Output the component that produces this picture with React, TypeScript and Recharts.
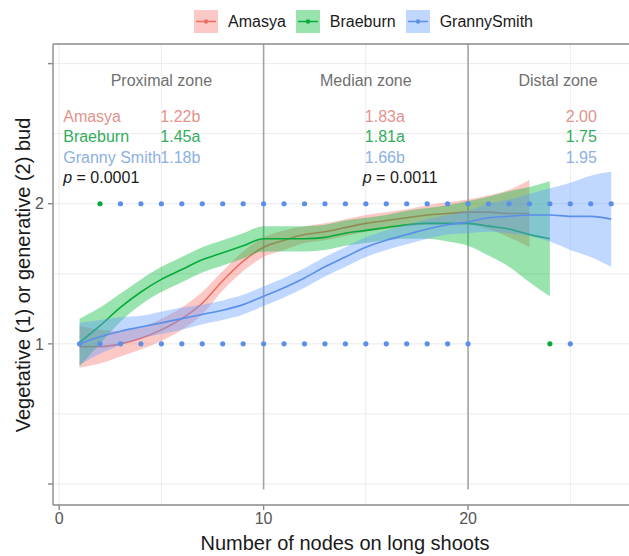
import {
  ComposedChart,
  Area,
  Line,
  Scatter,
  XAxis,
  YAxis,
  ReferenceLine,
} from 'recharts';

// smoothed fits (loess) and their half band widths, read at nodes 1..n
const amasyaFit = [0.98, 0.98, 1.0, 1.04, 1.1, 1.18, 1.29, 1.45, 1.59, 1.69, 1.74, 1.78, 1.8, 1.83, 1.86, 1.88, 1.9, 1.92, 1.93, 1.94, 1.94, 1.93, 1.93];
const amasyaSe = [0.15, 0.12, 0.09, 0.08, 0.08, 0.08, 0.08, 0.07, 0.07, 0.07, 0.07, 0.06, 0.06, 0.06, 0.06, 0.06, 0.06, 0.07, 0.08, 0.09, 0.12, 0.17, 0.24];
const braeburnFit = [1.01, 1.13, 1.26, 1.37, 1.46, 1.53, 1.6, 1.65, 1.7, 1.75, 1.75, 1.75, 1.76, 1.79, 1.81, 1.83, 1.85, 1.86, 1.86, 1.86, 1.84, 1.82, 1.78, 1.75];
const braeburnSe = [0.17, 0.13, 0.1, 0.09, 0.09, 0.09, 0.09, 0.09, 0.09, 0.09, 0.09, 0.09, 0.09, 0.09, 0.09, 0.09, 0.1, 0.11, 0.13, 0.16, 0.21, 0.27, 0.34, 0.41];
const grannyFit = [1.0, 1.05, 1.09, 1.12, 1.15, 1.18, 1.21, 1.24, 1.28, 1.34, 1.4, 1.47, 1.55, 1.62, 1.69, 1.74, 1.78, 1.82, 1.85, 1.87, 1.9, 1.91, 1.92, 1.92, 1.91, 1.91, 1.89];
const grannySe = [0.15, 0.12, 0.1, 0.08, 0.08, 0.08, 0.07, 0.07, 0.07, 0.07, 0.07, 0.07, 0.07, 0.07, 0.07, 0.07, 0.07, 0.07, 0.07, 0.08, 0.1, 0.12, 0.15, 0.19, 0.24, 0.29, 0.34];

// observed buds (1 = vegetative, 2 = generative) by node
const grannyGenerative = [3, 4, 5, 6, 7, 8, 9, 10, 11, 12, 13, 14, 15, 16, 17, 18, 19, 20, 21, 22, 23, 24, 25, 26, 27];
const grannyVegetative = [1, 2, 3, 4, 5, 6, 7, 8, 9, 10, 11, 12, 13, 14, 15, 16, 17, 18, 19, 20, 25];
const braeburnGenerative = [2];
const braeburnVegetative = [24];

const xTicks = [0, 10, 20];
const yTicks = [0, 1, 2, 3];
const zoneBreaks = [10, 20];

const zones = ['Proximal zone', 'Median zone', 'Distal zone'];
const zoneX = [5, 15, 24.4];
const varieties = ['Amasya', 'Braeburn', 'Granny Smith'];
const proximalMeans = ['1.22b', '1.45a', '1.18b'];
const medianMeans = ['1.83a', '1.81a', '1.66b'];
const distalMeans = ['2.00', '1.75', '1.95'];
const pValues = ['0.0001', '0.0011'];
const rowY = [2.62, 2.48, 2.33, 2.19];

const lineColors = ['#ec6f66', '#08aa3c', '#5a8fea'];
const fillColors = ['#F8766D', '#00BA38', '#619CFF'];
const noteColors = ['#e3938d', '#32ad5c', '#8db0e2'];
const legendNames = ['Amasya', 'Braeburn', 'GrannySmith'];

const FONT = '"Liberation Sans", Arial, sans-serif';

const rows = Array.from({ length: 27 }, (_, i) => {
  const r: any = { x: i + 1 };
  if (i < amasyaFit.length) {
    r.amasya = amasyaFit[i];
    r.amasyaBand = [amasyaFit[i] - amasyaSe[i], amasyaFit[i] + amasyaSe[i]];
  }
  if (i < braeburnFit.length) {
    r.braeburn = braeburnFit[i];
    r.braeburnBand = [braeburnFit[i] - braeburnSe[i], braeburnFit[i] + braeburnSe[i]];
  }
  if (i < grannyFit.length) {
    r.granny = grannyFit[i];
    r.grannyBand = [grannyFit[i] - grannySe[i], grannyFit[i] + grannySe[i]];
  }
  return r;
});

const pts = (xs: number[], y: number) => xs.map((x) => ({ x, y }));

type Note = { x: number; y: number; text: string; color: string; anchor: string; p?: boolean };
const notes: Note[] = [];
zones.forEach((z, i) => notes.push({ x: zoneX[i], y: 2.88, text: z, color: '#707070', anchor: 'middle' }));
varieties.forEach((v, i) => {
  notes.push({ x: 0.2, y: rowY[i], text: v, color: noteColors[i], anchor: 'start' });
  notes.push({ x: 4.95, y: rowY[i], text: proximalMeans[i], color: noteColors[i], anchor: 'start' });
  notes.push({ x: 14.95, y: rowY[i], text: medianMeans[i], color: noteColors[i], anchor: 'start' });
  notes.push({ x: 26.3, y: rowY[i], text: distalMeans[i], color: noteColors[i], anchor: 'end' });
});
notes.push({ x: 0.2, y: rowY[3], text: pValues[0], color: '#1a1a1a', anchor: 'start', p: true });
notes.push({ x: 14.85, y: rowY[3], text: pValues[1], color: '#1a1a1a', anchor: 'start', p: true });

function NoteShape(props: any) {
  const { cx, cy, payload } = props;
  return (
    <text x={cx} y={cy} dy="0.35em" textAnchor={payload.anchor} fill={payload.color} fontSize={16} fontFamily={FONT}>
      {payload.p ? (
        <>
          <tspan fontStyle="italic">p</tspan>
          <tspan>{` = ${payload.text}`}</tspan>
        </>
      ) : (
        payload.text
      )}
    </text>
  );
}

const dot = (color: string) => (props: any) => <circle cx={props.cx} cy={props.cy} r={2.6} fill={color} />;

function Swatch({ i }: { i: number }) {
  return (
    <svg width={24} height={23}>
      <rect x={0} y={0} width={24} height={23} fill={fillColors[i]} fillOpacity={0.4} />
      <line x1={2} x2={22} y1={11.5} y2={11.5} stroke={lineColors[i]} strokeWidth={1.5} />
      <circle cx={12} cy={11.5} r={2.2} fill={lineColors[i]} />
    </svg>
  );
}

export default function App() {
  return (
    <div style={{ position: 'fixed', left: 0, top: 0, width: 629, height: 556, background: '#fff', fontFamily: FONT }}>
      <div style={{ position: 'absolute', left: 194, top: 10, display: 'flex', alignItems: 'center', gap: 10, fontSize: 16, color: '#1a1a1a' }}>
        {legendNames.map((n, i) => (
          <div key={n} style={{ display: 'flex', alignItems: 'center', gap: 10 }}>
            <Swatch i={i} />
            <span>{n}</span>
          </div>
        ))}
      </div>
      <ComposedChart width={629} height={556} data={rows} margin={{ top: 44, right: 0, bottom: 0, left: 0 }}>
        {yTicks.concat([0.5, 1.5, 2.5]).map((v) => (
          <ReferenceLine key={'h' + v} y={v} stroke="#ebebeb" strokeWidth={1} zIndex={-50} />
        ))}
        {[0, 5, 15, 25].map((v) => (
          <ReferenceLine key={'v' + v} x={v} stroke="#ebebeb" strokeWidth={1} zIndex={-50} />
        ))}
        <XAxis
          type="number"
          dataKey="x"
          domain={[-0.3, 27.87]}
          allowDataOverflow
          ticks={xTicks}
          height={51}
          tickSize={5}
          tickMargin={3}
          stroke="#8a8a8a"
          strokeWidth={1.4}
          tick={{ fill: '#555', fontSize: 16, fontFamily: FONT }}
        />
        <YAxis
          type="number"
          domain={[-0.15, 3.14]}
          allowDataOverflow
          ticks={yTicks}
          width={53}
          tickSize={5}
          tickMargin={4}
          stroke="#8a8a8a"
          strokeWidth={1.4}
          tickFormatter={(v: number) => (v === 1 || v === 2 ? String(v) : '')}
          tick={{ fill: '#555', fontSize: 16, fontFamily: FONT }}
        />
        <ReferenceLine y={3.14} stroke="#8a8a8a" strokeWidth={1.4} />
        {zoneBreaks.map((v) => (
          <ReferenceLine
            key={'z' + v}
            segment={[{ x: v, y: -0.04 }, { x: v, y: 3.14 }]}
            stroke="#a3a3a3"
            strokeWidth={1.6}
            zIndex={-40}
          />
        ))}

        <Area dataKey="amasyaBand" type="monotone" stroke="none" fill={fillColors[0]} fillOpacity={0.4} isAnimationActive={false} zIndex={101} />
        <Line dataKey="amasya" type="monotone" stroke={lineColors[0]} strokeWidth={1.6} dot={false} isAnimationActive={false} zIndex={102} />
        <Area dataKey="braeburnBand" type="monotone" stroke="none" fill={fillColors[1]} fillOpacity={0.4} isAnimationActive={false} zIndex={103} />
        <Line dataKey="braeburn" type="monotone" stroke={lineColors[1]} strokeWidth={1.6} dot={false} isAnimationActive={false} zIndex={104} />
        <Area dataKey="grannyBand" type="monotone" stroke="none" fill={fillColors[2]} fillOpacity={0.4} isAnimationActive={false} zIndex={105} />
        <Line dataKey="granny" type="monotone" stroke={lineColors[2]} strokeWidth={1.6} dot={false} isAnimationActive={false} zIndex={106} />

        <Scatter data={pts(braeburnGenerative, 2).concat(pts(braeburnVegetative, 1))} dataKey="y" shape={dot(lineColors[1])} isAnimationActive={false} />
        <Scatter data={pts(grannyGenerative, 2).concat(pts(grannyVegetative, 1))} dataKey="y" shape={dot(lineColors[2])} isAnimationActive={false} />
        <Scatter data={notes} dataKey="y" shape={NoteShape} isAnimationActive={false} />
      </ComposedChart>
      <svg width={629} height={556} style={{ position: 'absolute', left: 0, top: 0, pointerEvents: 'none' }}>
        <text x={345} y={543} dy="0.35em" textAnchor="middle" fontSize={20} fill="#1a1a1a" fontFamily={FONT}>
          Number of nodes on long shoots
        </text>
        <text x={23} y={275} dy="0.35em" textAnchor="middle" fontSize={20} fill="#1a1a1a" fontFamily={FONT} transform="rotate(-90 23 275)">
          Vegetative (1) or generative (2) bud
        </text>
      </svg>
    </div>
  );
}
